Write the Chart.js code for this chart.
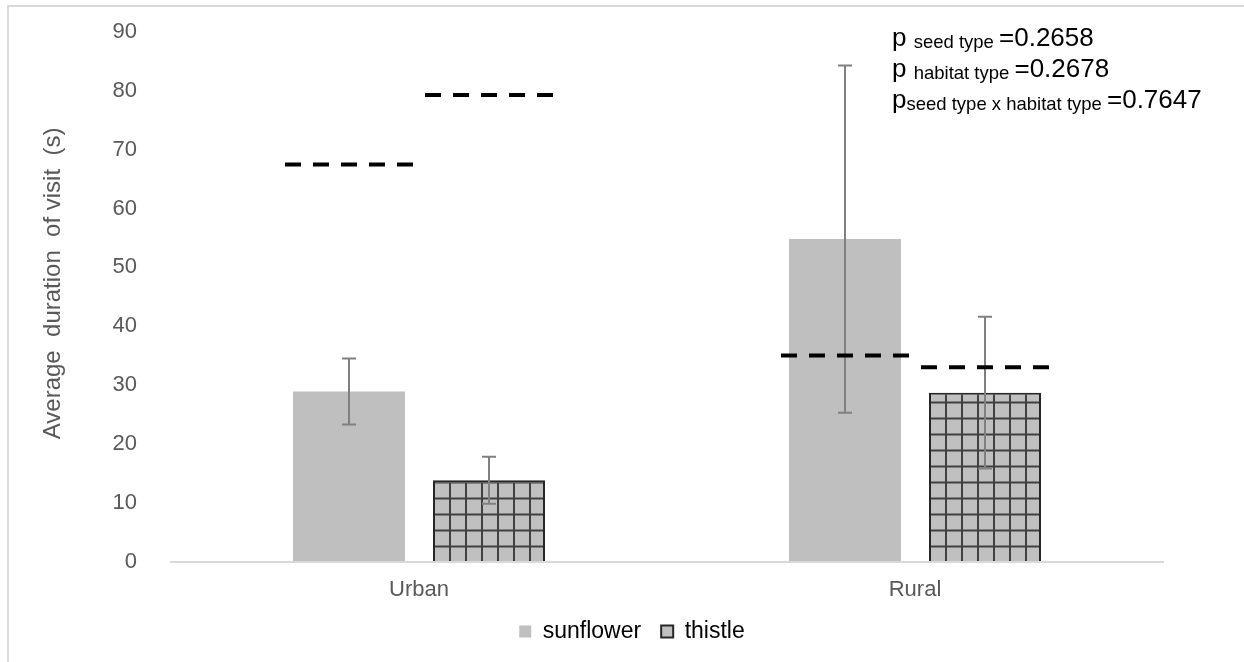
<!DOCTYPE html>
<html>
<head>
<meta charset="utf-8">
<script src="https://cdn.jsdelivr.net/npm/chart.js@4.4.1/dist/chart.umd.min.js"></script>
<style>
html, body { margin: 0; padding: 0; background: #fff; overflow: hidden; }
#wrap { position: relative; width: 1244px; height: 662px; }
#frame { position: absolute; left: 7px; top: 5px; width: 1300px; height: 700px;
  border-left: 2px solid #d9d9d9; border-top: 2px solid #d9d9d9; pointer-events: none; }
</style>
</head>
<body>
<div id="wrap">
  <canvas id="chart" width="1244" height="662"></canvas>
  <div id="frame"></div>
</div>
<script>
// values
const habitats = ['Urban', 'Rural'];
const yTicks = [0, 10, 20, 30, 40, 50, 60, 70, 80, 90];
const sunflower = [28.9, 54.8];
const thistle = [13.8, 28.7];
const sunflowerErr = [5.6, 29.5];
const thistleErr = [4.0, 12.9];
// dashed reference levels drawn over each bar
const sunflowerDash = [67.5, 35.0];
const thistleDash = [79.3, 33.0];
// [main, subscript, value]
const pValues = [
  ['p ', 'seed type ', '=0.2658'],
  ['p ', 'habitat type ', '=0.2678'],
  ['p', 'seed type x habitat type ', '=0.7647']
];

const FONT = "'Liberation Sans', Arial, sans-serif";
const TEXT = '#595959';

// small grid tile for the thistle bars
function makeGrid() {
  const c = document.createElement('canvas');
  c.width = 16; c.height = 16;
  const g = c.getContext('2d');
  g.fillStyle = '#c0c0c0';
  g.fillRect(0, 0, 16, 16);
  g.fillStyle = '#404040';
  g.fillRect(0, 0, 2, 16);
  g.fillRect(0, 0, 16, 2);
  return g.createPattern(c, 'repeat');
}
const grid = makeGrid();

const extras = {
  id: 'extras',
  beforeDatasetsDraw(chart) {
    const bar = chart.getDatasetMeta(1).data[0];
    const left = bar.x - bar.width / 2;
    grid.setTransform(new DOMMatrix([1, 0, 0, 1, left, chart.scales.y.bottom]));
  },
  afterDatasetsDraw(chart) {
    const ctx = chart.ctx;
    const y = chart.scales.y;
    const errs = [sunflowerErr, thistleErr];
    const dashes = [sunflowerDash, thistleDash];
    const vals = [sunflower, thistle];
    ctx.save();
    // error bars
    ctx.strokeStyle = '#808080';
    ctx.lineWidth = 2;
    for (let d = 0; d < 2; d++) {
      chart.getDatasetMeta(d).data.forEach((b, i) => {
        const hi = y.getPixelForValue(vals[d][i] + errs[d][i]);
        const lo = y.getPixelForValue(vals[d][i] - errs[d][i]);
        ctx.beginPath();
        ctx.moveTo(b.x, hi); ctx.lineTo(b.x, lo);
        ctx.moveTo(b.x - 7, hi); ctx.lineTo(b.x + 7, hi);
        ctx.moveTo(b.x - 7, lo); ctx.lineTo(b.x + 7, lo);
        ctx.stroke();
      });
    }
    // dashed levels
    ctx.strokeStyle = '#000';
    ctx.lineWidth = 4;
    ctx.setLineDash([16, 12]);
    for (let d = 0; d < 2; d++) {
      chart.getDatasetMeta(d).data.forEach((b, i) => {
        const py = y.getPixelForValue(dashes[d][i]);
        ctx.beginPath();
        ctx.moveTo(b.x - 64, py);
        ctx.lineTo(b.x + 64, py);
        ctx.stroke();
      });
    }
    ctx.restore();
  },
  afterDraw(chart) {
    const ctx = chart.ctx;
    ctx.save();
    ctx.fillStyle = '#000';
    ctx.textBaseline = 'alphabetic';
    const base = [46, 77, 108];
    pValues.forEach((row, i) => {
      let x = 892;
      ctx.font = '26px ' + FONT;
      ctx.fillText(row[0], x, base[i]);
      x += ctx.measureText(row[0]).width;
      ctx.font = '18.5px ' + FONT;
      ctx.fillText(row[1], x, base[i] + 2);
      x += ctx.measureText(row[1]).width;
      ctx.font = '26px ' + FONT;
      ctx.fillText(row[2], x, base[i]);
    });
    ctx.restore();
  }
};

new Chart(document.getElementById('chart'), {
  type: 'bar',
  data: {
    labels: habitats,
    datasets: [{
      label: 'sunflower',
      data: sunflower,
      backgroundColor: '#bfbfbf',
      borderWidth: 0,
      categoryPercentage: 0.5645,
      barPercentage: 0.8
    }, {
      label: 'thistle',
      data: thistle,
      backgroundColor: grid,
      borderColor: '#262626',
      borderWidth: 2,
      borderSkipped: 'bottom',
      categoryPercentage: 0.5645,
      barPercentage: 0.8
    }]
  },
  options: {
    responsive: false,
    animation: false,
    devicePixelRatio: 1,
    layout: { padding: { left: 20, right: 0, top: 32, bottom: 9 } },
    plugins: {
      tooltip: { enabled: false },
      legend: {
        position: 'bottom',
        labels: {
          color: TEXT,
          font: { family: FONT, size: 23 },
          boxWidth: 12,
          boxHeight: 12,
          padding: 20,
          generateLabels: () => [
            { text: 'sunflower', fillStyle: '#bfbfbf', strokeStyle: '#bfbfbf', lineWidth: 0, datasetIndex: 0 },
            { text: 'thistle', fillStyle: '#c0c0c0', strokeStyle: '#262626', lineWidth: 2, datasetIndex: 1 }
          ]
        }
      }
    },
    scales: {
      x: {
        afterFit: s => { s.height = 38.5; },
        grid: { display: false },
        border: { display: true, color: '#d9d9d9', width: 2 },
        ticks: { color: TEXT, font: { family: FONT, size: 22 }, padding: 7.5 }
      },
      y: {
        min: 0,
        max: 90,
        afterBuildTicks: s => { s.ticks = yTicks.map(v => ({ value: v })); },
        afterFit: s => { s.width = 151; },
        grid: { display: true, drawOnChartArea: false, drawTicks: true, tickLength: 34, color: 'rgba(0,0,0,0)' },
        border: { display: false },
        ticks: { color: TEXT, font: { family: FONT, size: 22 }, padding: 0 },
        title: {
          display: true,
          text: '    Average  duration  of visit  (s)',
          color: TEXT,
          font: { family: FONT, size: 24 },
          padding: { top: 19, bottom: 0 }
        }
      },
      pad: {
        position: 'right',
        afterFit: s => { s.width = 81; },
        grid: { display: false },
        border: { display: false },
        ticks: { display: false }
      }
    }
  },
  plugins: [extras]
});
</script>
</body>
</html>
